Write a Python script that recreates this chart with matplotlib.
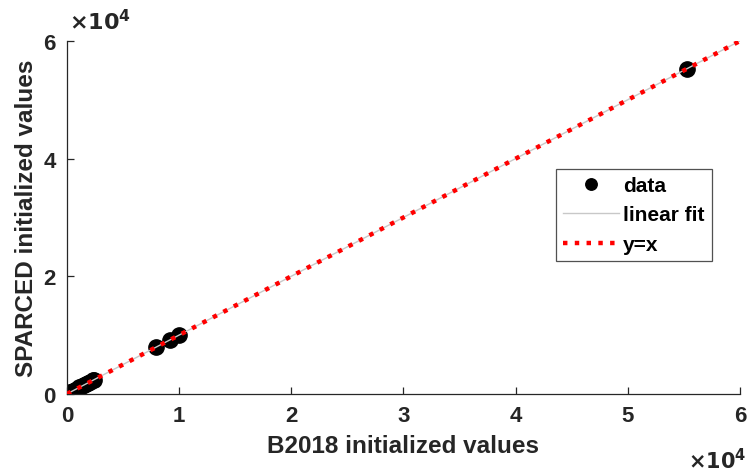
import matplotlib

matplotlib.use("Agg")
import matplotlib.pyplot as plt
import numpy as np

# Values (raw units)
b2018 = [0, 60, 150, 250, 400, 550, 700, 900, 1100, 1300, 1500, 1700, 1900, 2100, 2300, 2450,
         7900, 9200, 10000, 55300]
sparced = [0, 60, 150, 260, 400, 560, 700, 900, 1100, 1300, 1500, 1700, 1900, 2100, 2300, 2450,
           7950, 9200, 10050, 55300]
ticks = [0, 1, 2, 3, 4, 5, 6]
SCALE = 1e4

plt.rcParams.update({
    "font.family": ["Liberation Sans", "DejaVu Sans"],
    "font.weight": "bold",
    "axes.linewidth": 0.9,
    "axes.edgecolor": "#262626",
})

x = np.array(b2018) / SCALE
y = np.array(sparced) / SCALE
slope, icept = np.polyfit(x, y, 1)
xl = np.array([ticks[0], ticks[-1]])

fig = plt.figure(figsize=(7.52, 4.77), dpi=100)
ax = fig.add_axes([0.089, 0.172, 0.895, 0.740])

ax.plot(x, y, "o", color="black", markersize=11, label="data", zorder=2)
ax.plot(xl, slope * xl + icept, "-", color="#c8c8c8", linewidth=1, label="linear fit", zorder=3)
ax.plot(xl, xl, ":", color="red", linewidth=3.2, label="y=x", zorder=4)

ax.set_xlim(ticks[0], ticks[-1])
ax.set_ylim(ticks[0], ticks[-1])
ax.set_xticks(ticks)
ax.set_yticks(ticks[::2])
ax.tick_params(direction="in", length=5, width=0.9, labelsize=16, colors="#262626", pad=8)
for s in ("top", "right"):
    ax.spines[s].set_visible(False)

ax.set_xlabel("B2018 initialized values", fontsize=17.5, fontweight="bold", color="#262626", labelpad=6)
ax.set_ylabel("SPARCED initialized values", fontsize=17.5, fontweight="bold", color="#262626", labelpad=4)

fig.text(0.092, 0.955, r"$\times10^4$", fontsize=16, color="#262626", ha="left", va="center",
         family="DejaVu Sans")
fig.text(0.992, 0.035, r"$\times10^4$", fontsize=15, color="#262626", ha="right", va="center",
         family="DejaVu Sans")

leg = ax.legend(loc="upper left", bbox_to_anchor=(0.726, 0.638), borderaxespad=0, fontsize=15,
                frameon=True, fancybox=False, edgecolor="#262626", handlelength=2.7,
                borderpad=0.35, labelspacing=0.5, handletextpad=0.2, markerscale=0.75)
leg.get_frame().set_linewidth(0.9)
for t in leg.get_texts():
    t.set_fontweight("bold")

fig.savefig("out.png", dpi=100, facecolor="white")
